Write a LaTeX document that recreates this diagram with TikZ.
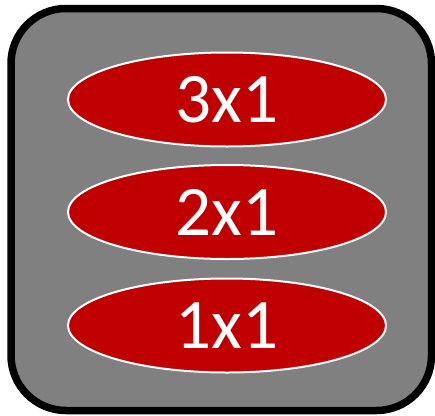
\documentclass[tikz,border=0pt]{standalone}
\usepackage{fontspec}
\setmainfont{Carlito}
\usetikzlibrary{shapes.geometric}
\definecolor{boxgray}{HTML}{808080}
\definecolor{ellred}{HTML}{C00000}
\tikzset{
  layer/.style={ellipse, draw=white, line width=2pt, fill=ellred, minimum width=318pt, minimum height=94pt, inner sep=0pt, text=white, font=\fontsize{71}{71}\selectfont},
  frame/.style={draw=black, fill=boxgray, line width=7.5pt, rounded corners=55pt}
}
\begin{document}
\begin{tikzpicture}[x=1pt,y=-1pt]
\useasboundingbox (0,0) rectangle (435,415);
\draw[frame] (11,8.5) rectangle (431.5,410.5);
\node[layer] (l3) at (227,99.5) {3x1};
\node[layer] (l2) at (227,212) {2x1};
\node[layer] (l1) at (227,325.5) {1x1};
\end{tikzpicture}
\end{document}
